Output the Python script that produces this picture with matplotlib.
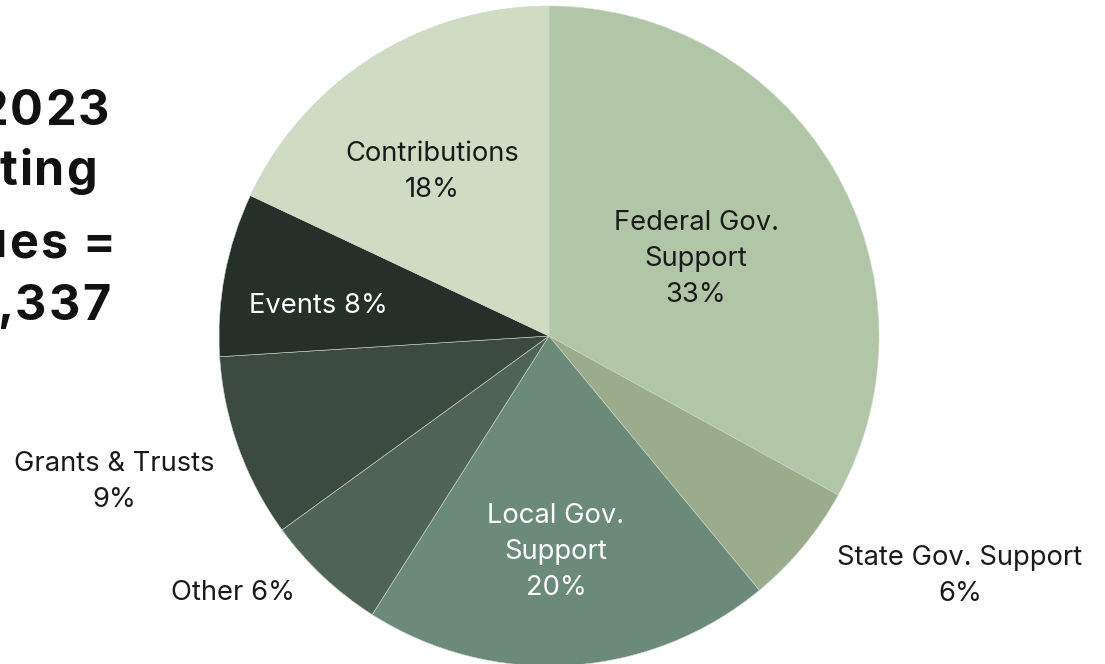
import matplotlib
matplotlib.use("Agg")
import matplotlib.pyplot as plt

# ---- data ----
categories = ["Federal Gov.\nSupport", "State Gov. Support", "Local Gov.\nSupport",
              "Other", "Grants & Trusts", "Events", "Contributions"]
shares = [33, 6, 20, 6, 9, 8, 18]
label_texts = ["Federal Gov.\nSupport\n33%", "State Gov. Support\n6%", "Local Gov.\nSupport\n20%",
               "Other 6%", "Grants & Trusts\n9%", "Events 8%", "Contributions\n18%"]
title_lines = ["2023", "ting", "ues =", ",337"]

# ---- style ----
colors = ["#b1c6a6", "#9aac8b", "#6b8a79", "#506455", "#3c4b41", "#26302b", "#cddcc3"]
text_colors = ["#1a1a1a", "#1a1a1a", "#ffffff", "#1a1a1a", "#1a1a1a", "#ffffff", "#1a1a1a"]
label_pos_px = [(696, 259), (960, 576), (556, 552), (233, 593), (114, 482), (318, 306), (432, 172)]
title_right_px = [109, 97, 115, 110]
title_base_px = [125, 185, 257, 320]
FONT = ["Inter", "DejaVu Sans"]

W, H = 1105, 664
fig = plt.figure(figsize=(W / 100, H / 100), dpi=100)
ax = fig.add_axes([0, 0, 1, 1])

cx, cy, R = 549, H - 336, 330
ax.pie(shares, colors=colors, startangle=90, counterclock=False,
       center=(cx, cy), radius=R, frame=True,
       wedgeprops=dict(edgecolor="#d0d8cc", linewidth=0.4))
ax.set_xlim(0, W)
ax.set_ylim(0, H)
ax.set_aspect("auto")
ax.axis("off")

for txt, (px, py), tc in zip(label_texts, label_pos_px, text_colors):
    ax.text(px, H - py, txt, ha="center", va="center", multialignment="center",
            fontsize=19.7, color=tc, family=FONT, linespacing=1.5)

# title with letter tracking, drawn right-to-left from its right edge
renderer = fig.canvas.get_renderer()
tracking = 2.0
space_w = 13.0
for line, rx, by in zip(title_lines, title_right_px, title_base_px):
    x = rx
    for ch in reversed(line):
        if ch == " ":
            x -= space_w
            continue
        t = ax.text(x, H - by, ch, ha="right", va="baseline", fontsize=35,
                    fontweight="bold", color="#111111", family=FONT)
        w = t.get_window_extent(renderer=renderer).width
        x -= w + tracking

fig.savefig("out.png", dpi=100)
